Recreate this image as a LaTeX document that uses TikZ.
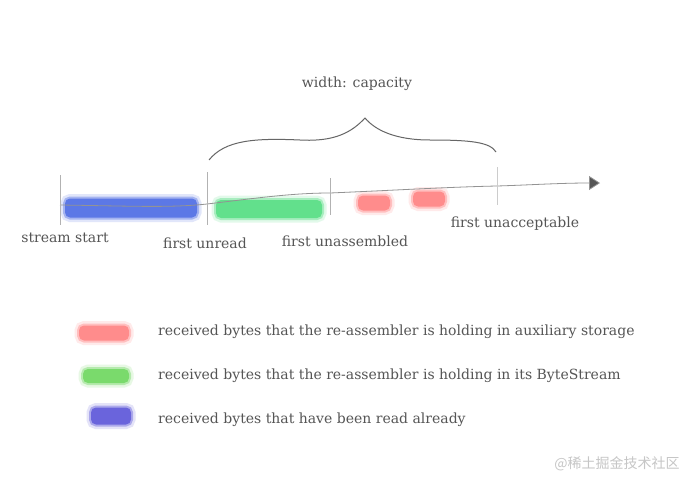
\documentclass[tikz,border=0pt]{standalone}
\usepackage{fontspec}
\setmainfont{DejaVu Serif}
\newfontfamily\cjkfont{Noto Sans CJK SC}
\usetikzlibrary{arrows.meta,positioning}

\begin{document}
\begin{tikzpicture}[
    x=1pt, y=-1pt,
    every node/.style={text=txt, inner sep=0pt, font=\fontsize{14}{16}\selectfont},
    tick/.style={draw=gray!60, line width=0.6pt},
    axis/.style={draw=gray!85, line width=0.8pt},
    brace/.style={draw=gray!80!black, line width=1pt},
    band/.style={fill=#1, draw=#1, draw opacity=0.45, line width=4pt,
        rounded corners=5pt, inner sep=0pt,
        preaction={draw=#1, draw opacity=0.18, line width=9pt}}
]
\definecolor{txt}{HTML}{555555}
\colorlet{rdx}{red!45!white}
\definecolor{grx}{HTML}{62E08C}
\definecolor{blx}{HTML}{5C78E6}
\definecolor{lgr}{HTML}{7ADA6C}
\definecolor{lbl}{HTML}{6A64DC}

    \fill[white] (0,0) rectangle (698,487);
    \useasboundingbox (0,0) rectangle (698,487);

    % the stream
    \coordinate (t0) at (60,205);
    \coordinate (t1) at (207,204);
    \coordinate (t2) at (330,193);
    \coordinate (t3) at (497,186);
    \coordinate (tip) at (600,183);

    \node[band=blx, minimum width=132pt, minimum height=19pt] (read) at (131,208) {};
    \node[band=grx, minimum width=106pt, minimum height=18pt] (held) at (269,209) {};
    \node[band=rdx, minimum width=32pt, minimum height=15pt] (aux1) at (374,203) {};
    \node[band=rdx, minimum width=32pt, minimum height=15pt] (aux2) at (429,199) {};

    \draw[axis] (t0)
        .. controls (130,206) and (170,208) .. (t1)
        .. controls (250,199) and (290,193) .. (t2)
        .. controls (400,190) and (450,187) .. (t3);
    \draw[axis, -{Triangle[length=11pt, width=14pt]}, arrows={[fill=txt]}] (t3)
        .. controls (530,185) and (560,183) .. (tip);

    \draw[tick] (t0) ++(0,-30) -- ++(0,50);
    \draw[tick, line width=0.9pt] (t1) ++(0,-32) -- ++(0,53);
    \draw[tick] (t2) ++(0,-15) -- ++(0,37);
    \draw[tick, draw=gray!40] (t3) ++(0,-19) -- ++(0,38);

    % the window
    \coordinate (b0) at (209,160);
    \coordinate (bm) at (365,118);
    \coordinate (b1) at (496,152);
    \draw[brace] (b0)
        .. controls (225,140) and (255,138) .. (300,140)
        .. controls (335,142) and (352,132) .. (bm)
        .. controls (375,130) and (395,140) .. (430,140)
        .. controls (470,140) and (490,142) .. (b1);

    \node (cap) at (357,84) {width: capacity};
    \node (lstart) at (65,238) {stream start};
    \node (lunread) at (205,243) {first unread};
    \node (lunass) at (345,241) {first unassembled};
    \node (lunacc) at (515,224) {first unacceptable};

    % legend
    \node[band=rdx, minimum width=50pt, minimum height=15pt] (kaux) at (104,333) {};
    \node[band=lgr, minimum width=46pt, minimum height=14pt] (kheld) at (106,376) {};
    \node[band=lbl, minimum width=40pt, minimum height=17pt] (kread) at (111,416) {};
    \node[anchor=west] (taux) at (158,332) {received bytes that the re-assembler is holding in auxiliary storage};
    \node[anchor=west] (theld) at (158,376) {received bytes that the re-assembler is holding in its ByteStream};
    \node[anchor=west] (tread) at (158,420) {received bytes that have been read already};

    \node[text=gray!45, font=\cjkfont\fontsize{14}{16}\selectfont] (mark) at (617,464) {@稀土掘金技术社区};
\end{tikzpicture}
\end{document}
